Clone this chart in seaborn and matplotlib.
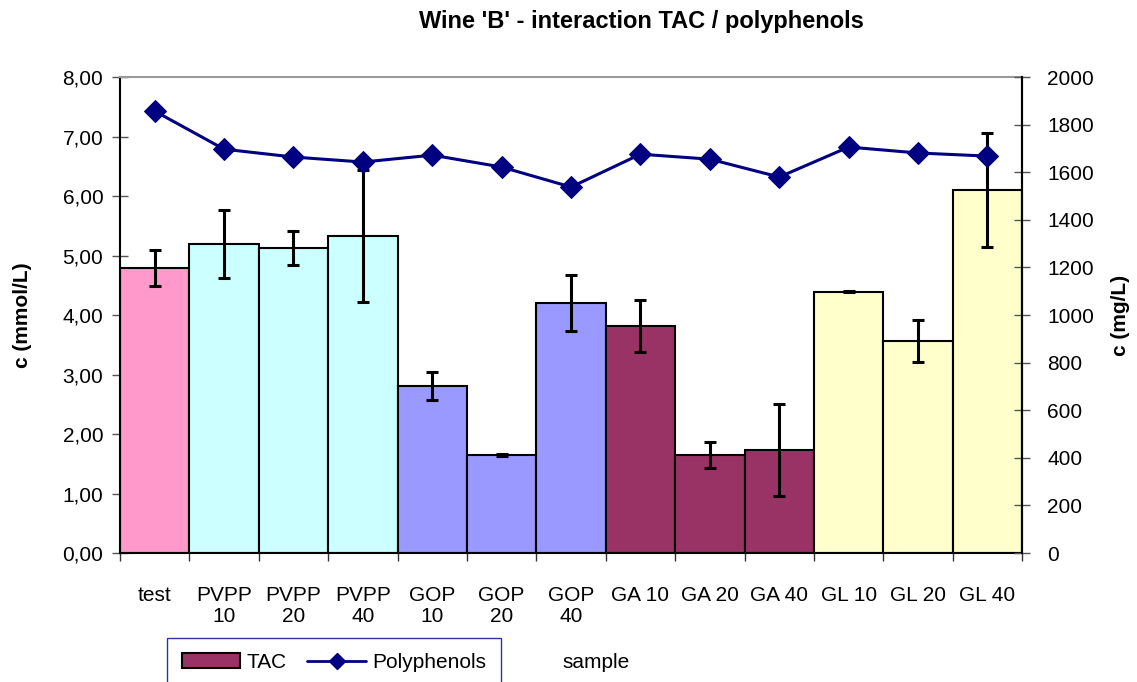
import numpy as np
import pandas as pd
import matplotlib
matplotlib.use('Agg')
import matplotlib.pyplot as plt
import seaborn as sns
from matplotlib.patches import Patch
from matplotlib.lines import Line2D
from matplotlib.ticker import FuncFormatter, MultipleLocator

# Data
samples = ['test', 'PVPP 10', 'PVPP 20', 'PVPP 40', 'GOP 10', 'GOP 20', 'GOP 40',
           'GA 10', 'GA 20', 'GA 40', 'GL 10', 'GL 20', 'GL 40']
tick_labels = ['test', 'PVPP\n10', 'PVPP\n20', 'PVPP\n40', 'GOP\n10', 'GOP\n20', 'GOP\n40',
               'GA 10', 'GA 20', 'GA 40', 'GL 10', 'GL 20', 'GL 40']
tac = [4.79, 5.19, 5.13, 5.33, 2.81, 1.65, 4.20, 3.82, 1.65, 1.73, 4.39, 3.56, 6.10]
tac_err = [0.30, 0.57, 0.28, 1.11, 0.24, 0.01, 0.47, 0.44, 0.22, 0.77, 0.01, 0.35, 0.96]
polyphenols = [1857, 1697, 1664, 1643, 1672, 1622, 1538, 1676, 1655, 1580, 1706, 1681, 1668]
bar_colors = ['#FF99CC', '#CCFFFF', '#CCFFFF', '#CCFFFF', '#9999FF', '#9999FF', '#9999FF',
              '#993366', '#993366', '#993366', '#FFFFCC', '#FFFFCC', '#FFFFCC']

df = pd.DataFrame({'sample': samples, 'TAC': tac, 'err': tac_err, 'Polyphenols': polyphenols})

sns.set_style('white')
plt.rcParams['font.family'] = ['Liberation Sans', 'DejaVu Sans']
plt.rcParams['text.color'] = 'black'
plt.rcParams['axes.labelcolor'] = 'black'
plt.rcParams['xtick.labelcolor'] = 'black'
plt.rcParams['ytick.labelcolor'] = 'black'

fig = plt.figure(figsize=(11.37, 6.82), dpi=100)
ax = fig.add_axes([0.1055, 0.189, 0.7935, 0.698])

sns.barplot(data=df, x='sample', y='TAC', hue='sample', palette=bar_colors, legend=False,
            saturation=1, width=1.0, edgecolor='black', linewidth=1.5, ax=ax, zorder=2)
ax.errorbar(np.arange(len(samples)), tac, yerr=tac_err, fmt='none', ecolor='black',
            elinewidth=2.2, capsize=4.5, capthick=2.2, zorder=3)

ax.set_xlim(-0.5, len(samples) - 0.5)
ax.set_ylim(0, 8)
ax.yaxis.set_major_locator(MultipleLocator(1))
ax.yaxis.set_major_formatter(FuncFormatter(lambda v, p: f'{v:.2f}'.replace('.', ',')))
ax.set_xticks(np.arange(len(samples)))
ax.set_xticklabels(tick_labels, fontsize=15, linespacing=1.1)
ax.set_xticks(np.arange(len(samples) + 1) - 0.5, minor=True)
ax.tick_params(axis='x', which='major', length=0, pad=24)
ax.tick_params(axis='x', which='minor', length=6, width=1, color='#333333', direction='out', bottom=True)
ax.tick_params(axis='y', length=12, width=1, color='#555555', direction='inout', left=True,
               labelsize=15, pad=6)
ax.set_ylabel('c (mmol/L)', fontsize=15, fontweight='bold')
ax.yaxis.set_label_coords(-0.098, 0.5)
ax.set_xlabel('')

for side in ['left', 'bottom', 'right']:
    ax.spines[side].set_color('black')
    ax.spines[side].set_linewidth(1.5)
ax.spines['top'].set_color('#999999')
ax.spines['top'].set_linewidth(1.5)

ax2 = ax.twinx()
sns.lineplot(x=np.arange(len(samples)), y=polyphenols, ax=ax2, color='#000080', linewidth=2.2,
             marker='D', markersize=11, markeredgecolor='#000080', zorder=4)
ax2.set_ylim(0, 2000)
ax2.yaxis.set_major_locator(MultipleLocator(200))
ax2.tick_params(axis='y', length=12, width=1, color='#555555', direction='inout', right=True,
                labelsize=15, pad=12)
ax2.set_ylabel('c (mg/L)', fontsize=15, fontweight='bold', rotation=90)
ax2.yaxis.set_label_coords(1.098, 0.5)
for s in ax2.spines.values():
    s.set_visible(False)
ax2.spines['right'].set_visible(True)
ax2.spines['right'].set_color('black')
ax2.spines['right'].set_linewidth(1.5)

fig.text(0.564, 0.968, "Wine 'B' - interaction TAC / polyphenols", ha='center', va='center',
         fontsize=17, fontweight='bold')
fig.text(0.524, 0.028, 'sample', ha='center', va='center', fontsize=15)

handles = [Patch(facecolor='#993366', edgecolor='black', linewidth=1.5, label='TAC'),
           Line2D([0], [0], color='#000080', linewidth=2, marker='D', markersize=8, label='Polyphenols')]
leg = fig.legend(handles=handles, loc='lower left', bbox_to_anchor=(0.138, -0.022), ncol=2,
                 fontsize=15, frameon=True, fancybox=False, handlelength=2.8, handletextpad=0.3,
                 columnspacing=1.0, borderpad=0.7)
leg.get_frame().set_edgecolor('#000080')
leg.get_frame().set_linewidth(1)

fig.savefig('out.png', dpi=100)
